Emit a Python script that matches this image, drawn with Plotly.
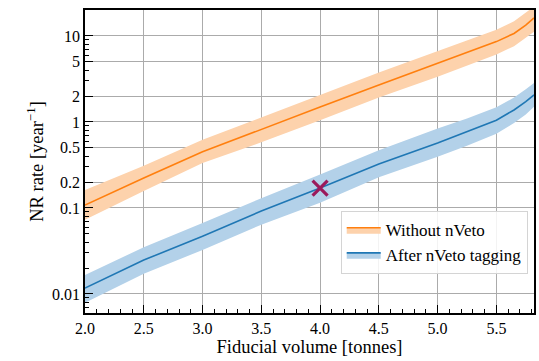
import plotly.graph_objects as go

# ---- data ----
volume = [2.0, 2.5, 3.0, 3.5, 4.0, 4.5, 5.0, 5.25, 5.5, 5.65, 5.75, 5.82]

no_veto_rate = [0.108, 0.223, 0.45, 0.81, 1.49, 2.7, 4.85, 6.4, 8.6, 10.7, 13.4, 16.2]
no_veto_upper = [0.162, 0.31, 0.62, 1.12, 2.06, 3.75, 6.6, 8.8, 11.8, 14.8, 18.5, 22.0]
no_veto_lower = [0.073, 0.158, 0.333, 0.58, 1.05, 1.92, 3.36, 4.5, 6.1, 7.6, 9.5, 11.2]

veto_rate = [0.0117, 0.0248, 0.047, 0.092, 0.171, 0.325, 0.57, 0.77, 1.05, 1.38, 1.72, 2.06]
veto_upper = [0.0166, 0.035, 0.067, 0.13, 0.245, 0.47, 0.84, 1.1, 1.48, 1.92, 2.4, 2.84]
veto_lower = [0.0079, 0.0172, 0.0325, 0.064, 0.115, 0.228, 0.395, 0.53, 0.73, 0.97, 1.22, 1.5]

marker_x = [4.0]
marker_y = [0.17]

y_tick_vals = [0.01, 0.1, 0.2, 0.5, 1, 2, 5, 10]
y_tick_text = ["0.01", "0.1", "0.2", "0.5", "1", "2", "5", "10"]
y_minor_vals = [0.006, 0.007, 0.008, 0.009,
                0.02, 0.03, 0.04, 0.05, 0.06, 0.07, 0.08, 0.09,
                0.3, 0.4, 0.6, 0.7, 0.8, 0.9,
                3, 4, 6, 7, 8, 9, 20]
x_tick_vals = [2.0, 2.5, 3.0, 3.5, 4.0, 4.5, 5.0, 5.5]
x_tick_text = ["2.0", "2.5", "3.0", "3.5", "4.0", "4.5", "5.0", "5.5"]

ORANGE = "#ff7f0e"
ORANGE_FILL = "#fdd2ac"
BLUE = "#1f77b4"
BLUE_FILL = "#b3d1e9"
FONT = "Liberation Serif"
GRID = "#ababab"

fig = go.Figure()


def add_band(name, lower, center, upper, color, fill):
    fig.add_trace(go.Scatter(x=volume, y=lower, mode="lines", line=dict(width=0, color=fill),
                             showlegend=False, hoverinfo="skip"))
    fig.add_trace(go.Scatter(x=volume, y=center, mode="lines", name=name,
                             line=dict(color=color, width=1.6), fill="tonexty", fillcolor=fill))
    fig.add_trace(go.Scatter(x=volume, y=upper, mode="lines", line=dict(width=0, color=fill),
                             fill="tonexty", fillcolor=fill, showlegend=False, hoverinfo="skip"))


add_band("Without nVeto", no_veto_lower, no_veto_rate, no_veto_upper, ORANGE, ORANGE_FILL)
add_band("After nVeto tagging", veto_lower, veto_rate, veto_upper, BLUE, BLUE_FILL)

fig.add_trace(go.Scatter(x=marker_x, y=marker_y, mode="markers", showlegend=False,
                         marker=dict(symbol="x-thin", size=15,
                                     line=dict(width=3.2, color="#9b1a5c"))))

fig.update_layout(
    width=539, height=361,
    margin=dict(l=85, r=3, t=10, b=48),
    paper_bgcolor="white", plot_bgcolor="white",
    font=dict(family=FONT, size=16, color="black"),
    legend=dict(x=0.986, y=0.336, xanchor="right", yanchor="top", traceorder="normal",
                bgcolor="rgba(255,255,255,0.85)", bordercolor="#d4d4d4", borderwidth=1,
                font=dict(family=FONT, size=17), itemwidth=34),
)

fig.update_xaxes(
    range=[2.0, 5.82], tickvals=x_tick_vals, ticktext=x_tick_text,
    ticks="inside", ticklen=8, tickwidth=1.2, tickcolor="black",
    showline=True, linecolor="black", linewidth=1.5, mirror=True,
    showgrid=True, gridcolor=GRID, gridwidth=1.1, zeroline=False,
    minor=dict(dtick=0.1, tick0=2.0, ticks="inside", ticklen=4, tickwidth=1, tickcolor="black", showgrid=False),
    title=dict(text="Fiducial volume [tonnes]", standoff=0, font=dict(size=18.5)),
    tickfont=dict(size=16),
)
fig.update_yaxes(
    type="log", range=[-2.221, 1.302], tickmode="array", tickvals=y_tick_vals, ticktext=y_tick_text,
    ticks="inside", ticklen=8, tickwidth=1.2, tickcolor="black",
    showline=True, linecolor="black", linewidth=1.5, mirror=True,
    showgrid=True, gridcolor=GRID, gridwidth=1.1, zeroline=False,
    minor=dict(tickmode="array", tickvals=y_minor_vals, ticks="inside", ticklen=4, tickwidth=1,
               tickcolor="black", showgrid=False),
    title=dict(text="NR rate [year<sup>−1</sup>]", standoff=4, font=dict(size=18.5)),
    tickfont=dict(size=16),
)

fig.write_html("out.html", config={"displayModeBar": False},
               post_script="document.body.style.margin='0';document.body.style.overflow='hidden';")
